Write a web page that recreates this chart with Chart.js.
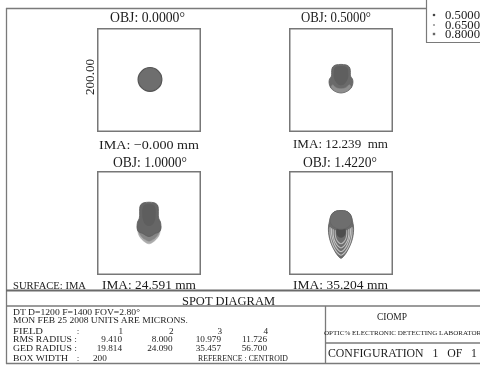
<!DOCTYPE html>
<html>
<head>
<meta charset="utf-8">
<script src="https://cdn.jsdelivr.net/npm/chart.js@4.4.1/dist/chart.umd.min.js"></script>
<style>
html,body{margin:0;padding:0;background:#fff;}
#wrap{position:relative;width:480px;height:365px;overflow:hidden;background:#fff;}
canvas.spot{position:absolute;}
svg{position:absolute;left:0;top:0;}
svg text{font-family:"Liberation Serif","Times New Roman",serif;fill:#1c1c1c;white-space:pre;}
</style>
</head>
<body>
<div id="wrap">
<canvas class="spot" id="c1" width="104" height="104" style="left:97px;top:28px"></canvas>
<canvas class="spot" id="c2" width="104" height="104" style="left:289px;top:28px"></canvas>
<canvas class="spot" id="c3" width="104" height="104" style="left:97px;top:171px"></canvas>
<canvas class="spot" id="c4" width="104" height="104" style="left:289px;top:171px"></canvas>
<svg id="ov" width="480" height="365" xmlns="http://www.w3.org/2000/svg"></svg>
</div>
<script>
// ---------- data (microns, box width 200) ----------
const fieldAngles = ["0.0000", "0.5000", "1.0000", "1.4220"];
const imaHeights = ["\u22120.000", "12.239", "24.591", "35.204"];
const wavelengths = ["0.5000", "0.6500", "0.8000"];
const fieldIndex = ["1", "2", "3", "4"];
const rmsRadius = ["9.410", "8.000", "10.979", "11.726"];
const gedRadius = ["19.814", "24.090", "35.457", "56.700"];
const boxWidth = 200;

// field 1 spot outline
const spot1Outer = [[25,1],[23,10],[18,17],[11,22],[2,24],[-7,22],[-14,17],[-19,10],[-21,1],[-19,-8],[-14,-15],[-7,-20],[2,-22],[11,-20],[18,-15],[23,-8],[25,1]];

// field 2 spot outlines
const spot2Body = [[0,30],[10,29],[16,25],[18,18],[18,10],[19,6],[22,2],[23,-4],[22,-10],[19,-16],[13,-21],[6,-24],[0,-25],[-6,-24],[-13,-21],[-19,-16],[-22,-10],[-23,-4],[-22,2],[-19,6],[-18,10],[-18,18],[-16,25],[-10,29],[0,30]];
const spot2Crescent = [[-16,-9],[-9,-15],[0,-17],[9,-15],[16,-9],[19,-13],[13,-20],[6,-23],[0,-24],[-6,-23],[-13,-20],[-19,-13],[-16,-9]];
const spot2Core = [[0,27],[8,26],[13,22],[14,14],[14,6],[11,-2],[6,-8],[0,-10],[-6,-8],[-11,-2],[-14,6],[-14,14],[-13,22],[-8,26],[0,27]];

// field 3 spot outlines
const spot3Tail = [[-23,-6],[-22,-14],[-20,-22],[-16,-29],[-10,-35],[-4,-39],[0,-40],[4,-39],[10,-35],[16,-29],[20,-22],[22,-14],[23,-6],[10,-4],[0,-4],[-10,-4],[-23,-6]];
const spot3Mid = [[-22,-8],[-20,-17],[-15,-25],[-9,-31],[-3,-34],[0,-35],[3,-34],[9,-31],[15,-25],[20,-17],[22,-8],[10,-5],[0,-5],[-10,-5],[-22,-8]];
const spot3Body = [[0,40],[10,39],[16,35],[18,28],[18,15],[19,8],[22,2],[23,-6],[22,-14],[18,-18],[12,-20],[6,-24],[0,-26],[-6,-24],[-12,-20],[-18,-18],[-22,-14],[-23,-6],[-22,2],[-19,8],[-18,15],[-18,28],[-16,35],[-10,39],[0,40]];
const spot3Core = [[0,36],[8,35],[12,30],[13,20],[12,8],[8,-2],[0,-6],[-8,-2],[-12,8],[-13,20],[-12,30],[-8,35],[0,36]];

// field 4 spot outlines and ring arcs
const spot4Outer = [[0,24],[9,23],[16,19],[20,12],[22,4],[24,-6],[24,-18],[22,-30],[18,-42],[12,-54],[6,-63],[0,-68],[-6,-63],[-12,-54],[-18,-42],[-22,-30],[-24,-18],[-24,-6],[-22,4],[-20,12],[-16,19],[-9,23],[0,24]];
const spot4Arc1 = [[-21,-8],[-21,-22],[-18,-36],[-13,-48],[-7,-57],[0,-62],[7,-57],[13,-48],[18,-36],[21,-22],[21,-8]];
const spot4Arc2 = [[-18,-10],[-18,-22],[-15,-34],[-11,-44],[-6,-51],[0,-55],[6,-51],[11,-44],[15,-34],[18,-22],[18,-10]];
const spot4Arc3 = [[-15,-12],[-15,-22],[-13,-32],[-9,-40],[-5,-45],[0,-48],[5,-45],[9,-40],[13,-32],[15,-22],[15,-12]];
const spot4Arc4 = [[-11,-14],[-11,-23],[-9,-31],[-5,-37],[0,-40],[5,-37],[9,-31],[11,-23],[11,-14]];
const spot4Core = [[0,-6],[7,-9],[9,-16],[7,-24],[0,-28],[-7,-24],[-9,-16],[-7,-9],[0,-6]];
const spot4Dome = [[0,24],[9,23],[16,19],[20,12],[21,4],[18,-4],[10,-10],[0,-12],[-10,-10],[-18,-4],[-21,4],[-20,12],[-16,19],[-9,23],[0,24]];

// ---------- spot charts ----------
function spotChart(id, layers){
  // layers listed bottom -> top; Chart.js draws dataset 0 on top
  const ds = layers.slice().reverse().map(l => ({
    data: l.pts.map(p => ({x:p[0], y:p[1]})),
    borderColor: l.stroke || l.color,
    backgroundColor: l.color,
    borderWidth: l.bw == null ? 0.8 : l.bw,
    fill: l.open ? false : 'shape',
    tension: 0.3,
    pointRadius: 0
  }));
  new Chart(document.getElementById(id), {
    type: 'line',
    data: {datasets: ds},
    options: {
      responsive:false, maintainAspectRatio:false, animation:false,
      layout:{padding:0},
      plugins:{legend:{display:false}, tooltip:{enabled:false}},
      scales:{
        x:{type:'linear', min:-boxWidth/2, max:boxWidth/2, display:false},
        y:{type:'linear', min:-boxWidth/2, max:boxWidth/2, display:false}
      }
    }
  });
}
spotChart('c1', [
  {pts:spot1Outer, color:'#6e6e6e', stroke:'#555', bw:1.2}
]);
spotChart('c2', [
  {pts:spot2Body, color:'#6a6a6a', stroke:'#5a5a5a'},
  {pts:spot2Crescent, color:'#8e8e8e', bw:0.5},
  {pts:spot2Core, color:'#5f5f5f', bw:0}
]);
spotChart('c3', [
  {pts:spot3Tail, color:'#ababab', bw:0.6},
  {pts:spot3Mid, color:'#858585', bw:0.5},
  {pts:spot3Body, color:'#666666', stroke:'#5c5c5c'},
  {pts:spot3Core, color:'#5e5e5e', bw:0}
]);
spotChart('c4', [
  {pts:spot4Outer, color:'#6c6c6c', stroke:'#5a5a5a'},
  {pts:spot4Arc1, color:'#c4c4c4', bw:1.1, open:true},
  {pts:spot4Arc2, color:'#c4c4c4', bw:1.1, open:true},
  {pts:spot4Arc3, color:'#c4c4c4', bw:1.1, open:true},
  {pts:spot4Arc4, color:'#b8b8b8', bw:1.1, open:true},
  {pts:spot4Core, color:'#4e4e4e', bw:0.4},
  {pts:spot4Dome, color:'#6e6e6e', stroke:'#646464'}
]);

// ---------- frame and text overlay ----------
const NS = 'http://www.w3.org/2000/svg';
const svg = document.getElementById('ov');
function el(tag, attrs, txt){
  const e = document.createElementNS(NS, tag);
  for (const k in attrs) e.setAttribute(k, attrs[k]);
  if (txt != null) e.textContent = txt;
  svg.appendChild(e); return e;
}
function line(x1,y1,x2,y2,w,c){ el('line',{x1,y1,x2,y2,stroke:c||'#7a7a7a','stroke-width':w||1.3}); }
function text(s,x,y,size,anchor,len){
  const a = {x, y, 'font-size':size, 'text-anchor':anchor||'start'};
  if (len){ a.textLength = len; a.lengthAdjust = 'spacingAndGlyphs'; }
  return el('text', a, s);
}

// outer frame
line(6,8.5,426,8.5,1.3);
line(6.5,8,6.5,364,1.3);
line(6,290.5,480,290.5,1.8,'#6a6a6a');
line(6,306,480,306,1.3);
line(6,363.5,480,363.5,1.3);
line(325.5,306,325.5,364,1.3);
line(325,343,480,343,1.3);
// legend box
line(426.5,-1,426.5,42.5,1.2);
line(426,42.5,480,42.5,1.2);

// spot boxes
[[97,28],[289,28],[97,171],[289,171]].forEach(b=>{
  el('rect',{x:b[0]+0.75,y:b[1]+0.75,width:102.5,height:102.5,fill:'none',stroke:'#777','stroke-width':1.5});
});

// titles
text('OBJ: '+fieldAngles[0]+'\u00b0',147.5,22,14,'middle',75);
text('OBJ: '+fieldAngles[1]+'\u00b0',336,22,14,'middle',70);
text('OBJ: '+fieldAngles[2]+'\u00b0',150,167,14,'middle',74);
text('OBJ: '+fieldAngles[3]+'\u00b0',340,167,14,'middle',74);
text('IMA: '+imaHeights[0]+' mm',149,149,13.5,'middle',100);
text('IMA: '+imaHeights[1]+'\u00a0 mm',340.5,148,13.5,'middle',95);
text('IMA: '+imaHeights[2]+' mm',149,288.5,13.5,'middle',94);
text('IMA: '+imaHeights[3]+' mm',340.5,288.5,13.5,'middle',95);
// box width label
const t200 = text(boxWidth.toFixed(2),0,0,13,'middle',36);
t200.setAttribute('transform','translate(94,77) rotate(-90)');

text('SURFACE: IMA',13,289,10.5,'start',73);
text('SPOT DIAGRAM',228.5,304.5,12.5,'middle',93);

// legend
const legY = [15,25,34];
wavelengths.forEach((w,i)=>{ text(w,445,legY[i]+4,11.5,'start',35); });
el('circle',{cx:434,cy:legY[0],r:1.3,fill:'#444'});
el('circle',{cx:434,cy:legY[1],r:1.1,fill:'#999'});
el('rect',{x:432.8,y:legY[2]-1.2,width:2.4,height:2.4,fill:'#666'});

// info block
const fs = 9.2;
text('DT D=1200 F=1400 FOV=2.80\u00b0',13,315,fs,'start',127);
text('MON FEB 25 2008 UNITS ARE MICRONS.',13,322.5,fs,'start',175);
const rowY = [333.5,342,351,361];
const colX = [123,173.5,222,268];
text('FIELD',13,rowY[0],fs,'start',30);
text(':',78,rowY[0],fs,'middle');
text('RMS RADIUS :',13,rowY[1],fs,'start',64);
text('GED RADIUS :',13,rowY[2],fs,'start',64);
text('BOX WIDTH',13,rowY[3],fs,'start',55);
text(':',78,rowY[3],fs,'middle');
text(String(boxWidth),93,rowY[3],fs,'start');
text('REFERENCE : CENTROID',198,rowY[3],fs,'start',90);
fieldIndex.forEach((f,i)=>{
  text(f,colX[i],rowY[0],fs,'end');
  text(rmsRadius[i],colX[i]-1,rowY[1],fs,'end');
  text(gedRadius[i],colX[i]-1,rowY[2],fs,'end');
});

// title block
text('CIOMP',392,319.5,10.5,'middle',30);
text('OPTIC% ELECTRONIC DETECTING LABORATORY',324,334.5,6,'start',162);
text('CONFIGURATION\u00a0\u00a0 1\u00a0\u00a0 OF\u00a0\u00a0 1',328,356.5,12,'start',149);
</script>
</body>
</html>
